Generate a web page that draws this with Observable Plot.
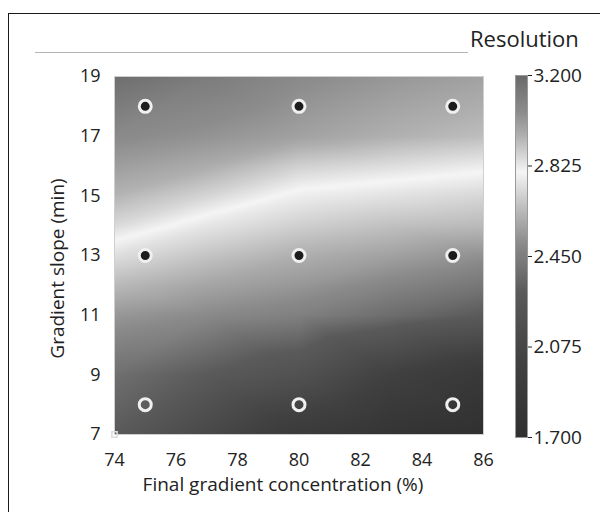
<!DOCTYPE html>
<html><head><meta charset="utf-8">
<script src="https://cdn.jsdelivr.net/npm/d3@7"></script>
<script src="https://cdn.jsdelivr.net/npm/@observablehq/plot@0.6"></script>
<style>
body{margin:0;background:#fff;font-family:"Open Sans",sans-serif;}
#wrap{position:relative;width:600px;height:512px;overflow:hidden;background:#fff;}
#border{position:absolute;left:8px;top:13px;width:640px;height:560px;border:1.5px solid #1a1a1a;}
#rule{position:absolute;left:35px;top:52px;width:433px;height:1px;background:#b5b5b5;}
#title{position:absolute;left:470px;top:25px;font-size:22px;color:#222;line-height:1.2;}
#main{position:absolute;left:0;top:0;}
#bar{position:absolute;left:500px;top:0;}
</style></head><body>
<div id="wrap"><div id="border"></div><div id="rule"></div><div id="title">Resolution</div><div id="main"></div><div id="bar"></div></div>
<script>
// Grid read from the response surface
const concentration = [74, 77, 80, 83, 86];
const slope = [7, 9, 11, 12, 13, 14, 15, 16, 17, 19];
const res7  = [2.30, 2.10, 1.90, 1.78, 1.70];
const res9  = [2.39, 2.30, 2.20, 2.00, 1.85];
const res11 = [2.54, 2.50, 2.46, 2.38, 2.30];
const res12 = [2.64, 2.58, 2.54, 2.48, 2.42];
const res13 = [2.74, 2.67, 2.61, 2.57, 2.52];
const res14 = [2.86, 2.76, 2.70, 2.66, 2.64];
const res15 = [2.94, 2.87, 2.78, 2.75, 2.72];
const res16 = [3.00, 2.96, 2.88, 2.85, 2.82];
const res17 = [3.06, 3.03, 2.99, 2.95, 2.92];
const res19 = [3.18, 3.12, 3.06, 3.02, 2.99];
const resolutionRows = [res7, res9, res11, res12, res13, res14, res15, res16, res17, res19];

// Design points
const designConc  = [75, 80, 85, 75, 80, 85, 75, 80, 85];
const designSlope = [18, 18, 18, 13, 13, 13, 8, 8, 8];
const designCenter = ["filled","filled","filled","filled","filled","filled","open","open","open"];
const cornerConc = [74], cornerSlope = [7];

// Axes / legend
const xTicks = [74, 76, 78, 80, 82, 84, 86];
const yTicks = [7, 9, 11, 13, 15, 17, 19];
const legendTicks = [1.7, 2.075, 2.45, 2.825, 3.2];
const colorDomain = [1.7, 2.0, 2.3, 2.5, 2.65, 2.8, 2.95, 3.05, 3.2];
const colorRange = ["#303030","#404040","#5a5a5a","#8a8a8a","#bdbdbd","#f5f5f5","#b0b0b0","#8c8c8c","#6a6a6a"];
const xTitle = "Final gradient concentration (%)";
const yTitle = "Gradient slope (min)";

const grid = [];
slope.forEach((s, i) => concentration.forEach((c, j) => grid.push({x: c, y: s, v: resolutionRows[i][j]})));
const points = designConc.map((c, i) => ({x: c, y: designSlope[i], center: designCenter[i]}));
const corner = cornerConc.map((c, i) => ({x: c, y: cornerSlope[i]}));

const colorScale = {type: "linear", domain: colorDomain, range: colorRange, interpolate: "rgb", clamp: true};
const font = {fontFamily: "'Open Sans', sans-serif", fontSize: "18px", color: "#222", background: "transparent", overflow: "visible"};

const main = Plot.plot({
  width: 500, height: 512,
  marginLeft: 114, marginRight: 17, marginTop: 76, marginBottom: 78,
  style: font,
  x: {domain: [74, 86]},
  y: {domain: [7, 19]},
  color: colorScale,
  marks: [
    Plot.raster(grid, {x: "x", y: "y", fill: "v", interpolate: "barycentric", pixelSize: 1}),
    Plot.frame({stroke: "#cfcfcf"}),
    Plot.dot(corner, {x: "x", y: "y", symbol: "square", r: 3, stroke: "#dcdcdc", strokeWidth: 1.5, fill: "none"}),
    Plot.dot(points, {x: "x", y: "y", r: 6, stroke: "#f0f0f0", strokeWidth: 3, fill: d => d.center === "filled" ? "#1c1c1c" : "none"}),
    Plot.axisX({ticks: xTicks, tickSize: 0, tickPadding: 19, label: null}),
    Plot.axisY({ticks: yTicks, tickSize: 0, tickPadding: 14, label: null}),
    Plot.text([xTitle], {text: d => d, frameAnchor: "bottom", textAnchor: "middle", lineAnchor: "middle", dx: -16, dy: 50, fontSize: 19}),
    Plot.text([yTitle], {text: d => d, frameAnchor: "left", textAnchor: "middle", lineAnchor: "middle", rotate: -90, dx: -57, dy: 13, fontSize: 19})
  ]
});
document.getElementById("main").appendChild(main);

const bar = Plot.plot({
  width: 100, height: 512,
  marginLeft: 15, marginRight: 73, marginTop: 75, marginBottom: 75,
  style: {...font, fontSize: "19px"},
  x: {domain: [0, 1], axis: null},
  y: {domain: [1.7, 3.2]},
  color: colorScale,
  marks: [
    Plot.raster({x1: 0, x2: 1, y1: 1.7, y2: 3.2, fill: (x, y) => y, pixelSize: 1}),
    Plot.frame({stroke: "#9a9a9a"}),
    Plot.axisY({anchor: "right", ticks: legendTicks, tickFormat: d3.format(".3f"), tickSize: 4, tickPadding: 2, label: null})
  ]
});
document.getElementById("bar").appendChild(bar);
</script>
</body></html>
